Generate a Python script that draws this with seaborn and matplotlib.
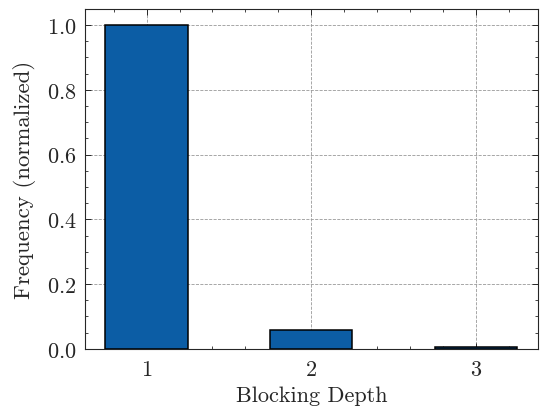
import matplotlib
matplotlib.use("Agg")
import matplotlib.pyplot as plt
import seaborn as sns
from matplotlib.ticker import AutoMinorLocator, MultipleLocator

# Data
depths = [1, 2, 3]
frequency = [1.0, 0.059, 0.005]

sns.set_style("ticks")
plt.rcParams["font.family"] = ["cmr10", "DejaVu Serif"]
plt.rcParams["axes.formatter.use_mathtext"] = True
plt.rcParams["mathtext.fontset"] = "cm"

fig = plt.figure(figsize=(5.4, 4.14), dpi=100)
ax = fig.add_axes([0.157, 0.155, 0.839, 0.821])

sns.barplot(
    x=depths,
    y=frequency,
    native_scale=True,
    width=0.5,
    color="#0C5DA5",
    saturation=1,
    edgecolor="black",
    linewidth=1.1,
    zorder=3,
    ax=ax,
)

ax.set_xlim(0.625, 3.375)
ax.set_ylim(0, 1.05)
ax.set_xticks(depths)
ax.xaxis.set_minor_locator(AutoMinorLocator(5))
ax.yaxis.set_major_locator(MultipleLocator(0.2))
ax.yaxis.set_minor_locator(AutoMinorLocator(4))

ax.grid(True, which="major", linestyle="--", color="#999999", linewidth=0.6, zorder=0)
ax.set_axisbelow(True)

ax.tick_params(which="both", direction="in", top=True, right=True, labelsize=16)
ax.tick_params(which="major", length=4, width=0.7)
ax.tick_params(axis="x", which="major", pad=7.5)
ax.tick_params(axis="y", which="major", pad=6)
ax.tick_params(which="minor", length=2, width=0.6)
for s in ax.spines.values():
    s.set_linewidth(0.8)

ax.set_xlabel("Blocking Depth", fontsize=16, labelpad=5)
ax.set_ylabel("Frequency (normalized)", fontsize=16.5, labelpad=8)

fig.savefig("out.png", dpi=100)
